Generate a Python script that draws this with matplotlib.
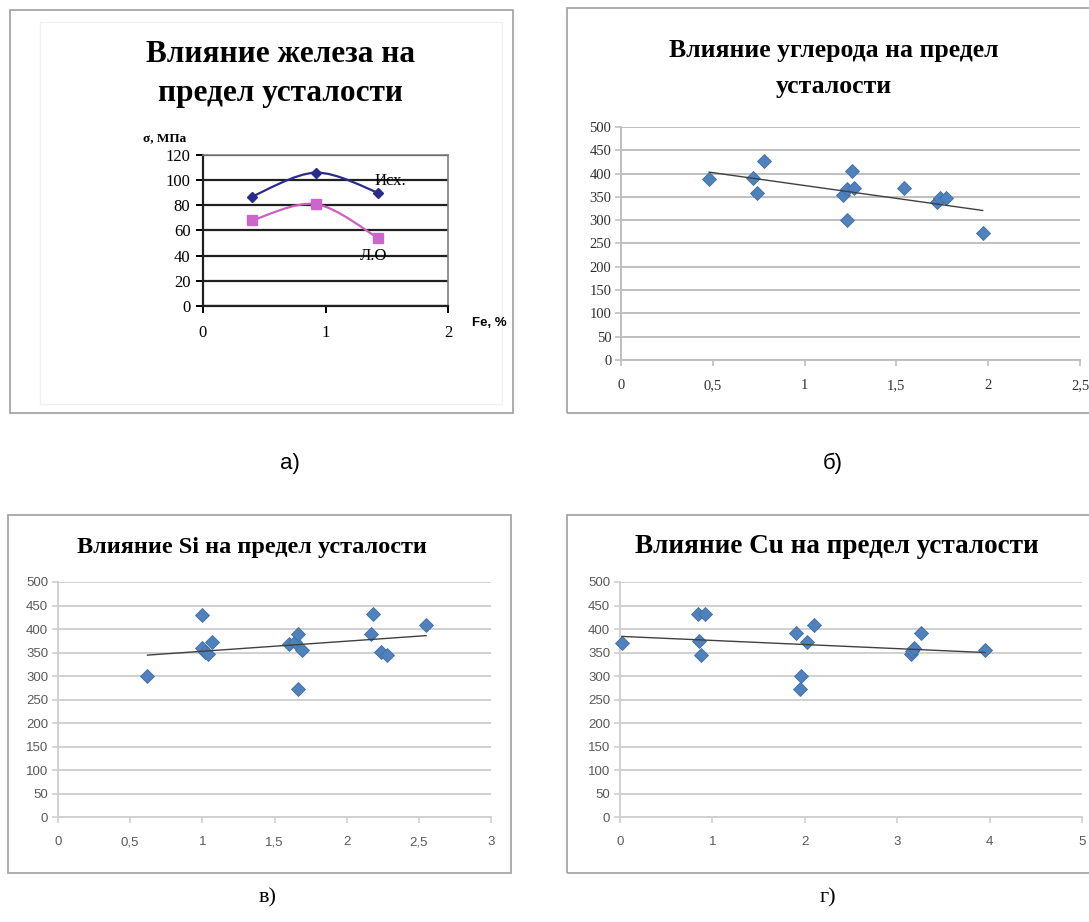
import numpy as np
import matplotlib
matplotlib.use("Agg")
import matplotlib.pyplot as plt
from matplotlib.path import Path
from matplotlib.patches import PathPatch, Rectangle
from matplotlib.ticker import FuncFormatter

W, H = 1089, 922

# а) влияние железа
fe_x = [0.40, 0.92, 1.43]
fe_isx = [87, 106, 90]
fe_lo = [68, 81, 54]

# б) влияние углерода
c_x = [0.48, 0.72, 0.74, 0.78, 1.21, 1.23, 1.23, 1.26, 1.27, 1.54, 1.72, 1.74, 1.77, 1.97]
c_y = [388, 390, 358, 428, 354, 368, 300, 406, 370, 370, 340, 348, 348, 272]

# в) влияние Si
si_x = [0.62, 1.00, 1.00, 1.02, 1.04, 1.07, 1.60, 1.64, 1.66, 1.66, 1.69, 2.17, 2.18, 2.24, 2.28, 2.55]
si_y = [300, 430, 360, 352, 346, 372, 369, 373, 390, 272, 355, 390, 431, 351, 344, 409]

# г) влияние Cu
cu_x = [0.02, 0.84, 0.92, 0.86, 0.88, 1.90, 1.95, 1.96, 2.02, 2.10, 3.15, 3.16, 3.18, 3.26, 3.95]
cu_y = [370, 431, 431, 374, 344, 391, 273, 301, 373, 408, 347, 353, 360, 391, 356]

SERIF = "Liberation Serif"
SANS = "Liberation Sans"

fig = plt.figure(figsize=(W / 100, H / 100), dpi=100)


def px_axes(left, top, right, bottom):
    return fig.add_axes([left / W, 1 - bottom / H, (right - left) / W, (bottom - top) / H])


def frame(left, top, right, bottom, color="#a6a6a6", lw=1.3):
    fig.add_artist(Rectangle((left / W, 1 - bottom / H), (right - left) / W, (bottom - top) / H,
                             transform=fig.transFigure, fill=False, ec=color, lw=lw))


def ftext(x, y, s, **kw):
    fig.text(x / W, 1 - y / H, s, **kw)


def comma(v, pos):
    return ("%g" % v).replace(".", ",")


def smooth_line(ax, xs, ys, color):
    # сглаженная линия как в Excel (кривые Безье через точки)
    pts = np.column_stack([xs, ys]).astype(float)
    verts = [pts[0]]
    codes = [Path.MOVETO]
    n = len(pts)
    for i in range(n - 1):
        p0 = pts[max(i - 1, 0)]
        p1 = pts[i]
        p2 = pts[i + 1]
        p3 = pts[min(i + 2, n - 1)]
        verts += [p1 + (p2 - p0) / 6, p2 - (p3 - p1) / 6, p2]
        codes += [Path.CURVE4] * 3
    ax.add_patch(PathPatch(Path(verts, codes), fill=False, ec=color, lw=1.6, zorder=3))


def scatter_panel(ax, xs, ys, xmax, xstep, gridc, lblfont, lblsize, lblcolor):
    ax.set_xlim(0, xmax)
    ax.set_ylim(0, 500)
    ax.set_yticks(np.arange(0, 501, 50))
    ax.set_xticks(np.arange(0, xmax + 0.01, xstep))
    ax.xaxis.set_major_formatter(FuncFormatter(comma))
    ax.yaxis.grid(True, color=gridc, lw=1.4)
    ax.set_axisbelow(True)
    for s in ("top", "right"):
        ax.spines[s].set_visible(False)
    for s in ("left", "bottom"):
        ax.spines[s].set_color(gridc)
        ax.spines[s].set_linewidth(1.4)
    ax.tick_params(length=4, color=gridc, width=1.2, labelsize=lblsize,
                   labelcolor=lblcolor, pad=3)
    ax.tick_params(axis="x", pad=10)
    for t in ax.get_xticklabels() + ax.get_yticklabels():
        t.set_fontfamily(lblfont)
    ax.plot(xs, ys, "D", ms=7.5, color="#4f81bd", mec="#3f6fa8", mew=0.6, zorder=3, clip_on=False)
    # линейный тренд
    k, b = np.polyfit(xs, ys, 1)
    xl = np.array([min(xs), max(xs)])
    ax.plot(xl, k * xl + b, color="#404040", lw=1.0, zorder=4)


# ---------- а) ----------
frame(10, 10, 513, 413)
frame(40, 22, 502, 404, color="#f0f0f0", lw=1.0)
ftext(280, 55, "Влияние железа на", ha="center", va="center", fontsize=22.5,
      fontweight="bold", family=SERIF)
ftext(281, 93, "предел усталости", ha="center", va="center", fontsize=22.5,
      fontweight="bold", family=SERIF)
ftext(143, 138, "σ, МПа", ha="left", va="center", fontsize=9.5, fontweight="bold", family=SERIF)
ftext(472, 323, "Fe, %", ha="left", va="center", fontsize=9.5, fontweight="bold", family=SANS)

ax = px_axes(203, 155, 448, 306)
ax.set_xlim(0, 2)
ax.set_ylim(0, 120)
ax.set_xticks([0, 1, 2])
ax.set_yticks(np.arange(0, 121, 20))
ax.yaxis.grid(True, color="#202020", lw=1.6)
ax.set_axisbelow(True)
for s in ("top", "right"):
    ax.spines[s].set_color("#808080")
    ax.spines[s].set_linewidth(1.2)
for s in ("left", "bottom"):
    ax.spines[s].set_color("#202020")
    ax.spines[s].set_linewidth(1.6)
ax.tick_params(length=5, width=1.4, labelsize=12, pad=4)
ax.tick_params(axis="x", pad=9)
for t in ax.get_xticklabels() + ax.get_yticklabels():
    t.set_fontfamily(SERIF)
smooth_line(ax, fe_x, fe_isx, "#2b2b8c")
smooth_line(ax, fe_x, fe_lo, "#cc5fc0")
ax.plot(fe_x, fe_isx, "D", ms=5, color="#2b2b8c", zorder=4)
ax.plot(fe_x, fe_lo, "s", ms=7, color="#cc66cc", zorder=4)
ax.text(1.40, 99, "Исх.", ha="left", va="center", fontsize=12, family=SERIF, zorder=5)
ax.text(1.28, 40, "Л.О", ha="left", va="center", fontsize=12, family=SERIF, zorder=5)

# ---------- б) ----------
frame(567, 8, 1095, 413)
ftext(834, 50, "Влияние углерода на предел", ha="center", va="center", fontsize=18.5,
      fontweight="bold", family=SERIF)
ftext(834, 86, "усталости", ha="center", va="center", fontsize=18.5,
      fontweight="bold", family=SERIF)
ax = px_axes(621, 127, 1080, 360)
scatter_panel(ax, c_x, c_y, 2.5, 0.5, "#bfbfbf", SERIF, 10.5, "#303030")

# ---------- в) ----------
frame(8, 515, 511, 873)
ftext(252, 547, "Влияние Si на предел усталости", ha="center", va="center", fontsize=17.5,
      fontweight="bold", family=SERIF)
ax = px_axes(58, 582, 491, 817)
scatter_panel(ax, si_x, si_y, 3, 0.5, "#d0d0d0", SANS, 9.5, "#595959")

# ---------- г) ----------
frame(567, 515, 1095, 873)
ftext(837, 546, "Влияние Cu на предел усталости", ha="center", va="center", fontsize=19.5,
      fontweight="bold", family=SERIF)
ax = px_axes(620, 582, 1082, 817)
scatter_panel(ax, cu_x, cu_y, 5, 1, "#d0d0d0", SANS, 9.5, "#595959")

# подписи панелей
ftext(290, 463, "а)", ha="center", va="center", fontsize=16,
      family=["Liberation Sans Narrow", SANS])
ftext(833, 463, "б)", ha="center", va="center", fontsize=16,
      family=["Liberation Sans Narrow", SANS])
ftext(268, 898, "в)", ha="center", va="center", fontsize=16, family=SERIF)
ftext(828, 898, "г)", ha="center", va="center", fontsize=16, family=SERIF)

fig.savefig("out.png", dpi=100)
